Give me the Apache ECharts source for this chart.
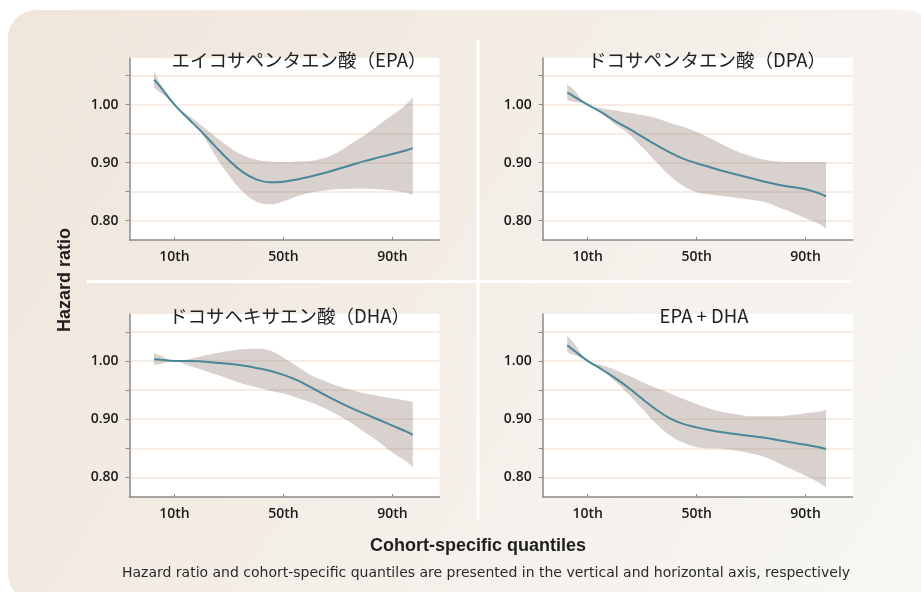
<!DOCTYPE html>
<html>
<head>
<meta charset="utf-8">
<script src="https://cdn.jsdelivr.net/npm/echarts@6/dist/echarts.min.js"></script>
<style>
  html, body { margin: 0; padding: 0; background: #ffffff; }
  #chart { width: 921px; height: 592px; }
</style>
</head>
<body>
<div id="chart"></div>
<script>
// Cohort-specific quantile positions (percentiles) at which the curves are sampled
const quantiles = [2.5, 5, 10, 15, 20, 25, 30, 35, 40, 45, 50, 55, 60, 65, 70, 75, 80, 85, 90, 95, 97.5];

// Panel titles
const panelTitles = ['エイコサペンタエン酸（EPA）', 'ドコサペンタエン酸（DPA）', 'ドコサヘキサエン酸（DHA）', 'EPA + DHA'];

// Hazard ratio estimates and 95% confidence bounds
const epaHR    = [1.043, 1.030, 1.000, 0.976, 0.953, 0.928, 0.904, 0.884, 0.871, 0.866, 0.867, 0.871, 0.876, 0.882, 0.889, 0.896, 0.903, 0.909, 0.915, 0.921, 0.925];
const epaUpper = [1.057, 1.035, 1.000, 0.982, 0.964, 0.945, 0.927, 0.913, 0.905, 0.902, 0.901, 0.902, 0.903, 0.908, 0.918, 0.933, 0.948, 0.965, 0.982, 1.000, 1.013];
const epaLower = [1.029, 1.020, 1.000, 0.978, 0.950, 0.912, 0.878, 0.850, 0.833, 0.828, 0.833, 0.842, 0.848, 0.852, 0.854, 0.855, 0.855, 0.854, 0.852, 0.848, 0.844];

const dpaHR    = [1.021, 1.014, 1.000, 0.987, 0.972, 0.959, 0.945, 0.931, 0.918, 0.907, 0.899, 0.892, 0.885, 0.879, 0.873, 0.867, 0.862, 0.858, 0.854, 0.847, 0.842];
const dpaUpper = [1.035, 1.025, 1.000, 0.994, 0.990, 0.986, 0.982, 0.977, 0.969, 0.962, 0.953, 0.942, 0.930, 0.919, 0.911, 0.905, 0.902, 0.901, 0.901, 0.901, 0.901];
const dpaLower = [1.007, 1.005, 1.000, 0.985, 0.966, 0.950, 0.927, 0.902, 0.878, 0.860, 0.849, 0.845, 0.842, 0.839, 0.836, 0.832, 0.823, 0.814, 0.804, 0.794, 0.786];

const dhaHR    = [1.003, 1.002, 1.000, 1.000, 0.999, 0.997, 0.995, 0.992, 0.988, 0.983, 0.976, 0.967, 0.955, 0.942, 0.930, 0.919, 0.909, 0.899, 0.889, 0.879, 0.873];
const dhaUpper = [1.013, 1.009, 1.000, 1.003, 1.008, 1.013, 1.017, 1.020, 1.021, 1.018, 1.006, 0.991, 0.976, 0.966, 0.957, 0.950, 0.944, 0.940, 0.936, 0.932, 0.929];
const dhaLower = [0.993, 0.995, 1.000, 0.992, 0.985, 0.977, 0.969, 0.961, 0.955, 0.949, 0.944, 0.937, 0.929, 0.919, 0.907, 0.893, 0.877, 0.861, 0.843, 0.828, 0.818];

const comboHR    = [1.027, 1.018, 1.000, 0.986, 0.971, 0.954, 0.935, 0.917, 0.902, 0.892, 0.886, 0.881, 0.877, 0.874, 0.871, 0.868, 0.864, 0.860, 0.856, 0.852, 0.849];
const comboUpper = [1.043, 1.030, 1.000, 0.993, 0.985, 0.975, 0.964, 0.954, 0.945, 0.935, 0.926, 0.918, 0.912, 0.908, 0.905, 0.905, 0.905, 0.907, 0.910, 0.913, 0.916];
const comboLower = [1.015, 1.010, 1.000, 0.985, 0.965, 0.943, 0.918, 0.893, 0.873, 0.860, 0.852, 0.850, 0.849, 0.846, 0.841, 0.835, 0.825, 0.814, 0.803, 0.791, 0.783];

// Axis ticks
const xTickValues = [10, 50, 90];
const yTickValues = [0.80, 0.85, 0.90, 0.95, 1.00, 1.05];
const yLabelValues = [0.80, 0.90, 1.00];

const panels = [
  { hr: epaHR, upper: epaUpper, lower: epaLower },
  { hr: dpaHR, upper: dpaUpper, lower: dpaLower },
  { hr: dhaHR, upper: dhaUpper, lower: dhaLower },
  { hr: comboHR, upper: comboUpper, lower: comboLower }
];

const gridBoxes = [
  { left: 129.5, top: 58, width: 310, height: 182 },
  { left: 542.7, top: 58, width: 310, height: 182 },
  { left: 129.5, top: 314, width: 310, height: 183 },
  { left: 542.7, top: 314, width: 310, height: 183 }
];
// horizontal centre of each panel heading
const titleCentres = [294, 702, 284.5, 699];

const latin = "'Liberation Sans', Arial, sans-serif";
const tickFont = "'Open Sans', 'DejaVu Sans', sans-serif";
const captionFont = "'DejaVu Sans', sans-serif";
const cjk = "'Noto Sans CJK JP', 'Noto Sans', sans-serif";
const axisColor = '#8a8a8a';
const lineColor = '#4a8799';
const bandColor = 'rgba(160,140,130,0.4)';

const grids = [], xAxes = [], yAxes = [], series = [], titles = [];

gridBoxes.forEach((g, i) => {
  grids.push({ left: g.left, top: g.top, width: g.width, height: g.height,
               show: true, backgroundColor: '#ffffff', borderWidth: 0, containLabel: false });

  xAxes.push({
    type: 'value', gridIndex: i, min: -6.5, max: 107.3,
    axisLine: { show: true, onZero: false, lineStyle: { color: axisColor, width: 1.5 } },
    axisTick: { show: true, inside: true, length: 3, customValues: xTickValues,
                lineStyle: { color: axisColor, width: 1 } },
    axisLabel: { show: true, customValues: xTickValues, margin: 10,
                 formatter: v => v + 'th',
                 color: '#1a1a1a', fontSize: 14, fontWeight: 600, fontFamily: tickFont },
    splitLine: { show: false }
  });

  yAxes.push({
    type: 'value', gridIndex: i, min: 0.7665, max: 1.0805,
    axisLine: { show: true, onZero: false, lineStyle: { color: axisColor, width: 1.5 } },
    axisTick: { show: true, inside: false, length: 4, customValues: yTickValues,
                lineStyle: { color: axisColor, width: 1 } },
    axisLabel: { show: true, customValues: yLabelValues, margin: 11,
                 formatter: v => v.toFixed(2),
                 color: '#1a1a1a', fontSize: 14, fontWeight: 600, fontFamily: tickFont },
    splitLine: { show: true, lineStyle: { color: '#f0e6dc', width: 1.5 } }
  });

  titles.push({
    text: panelTitles[i],
    left: titleCentres[i], top: g.top - 12, textAlign: 'center',
    textStyle: { fontFamily: cjk, fontWeight: 'normal', fontSize: 18.5, color: '#222222' }
  });

  const p = panels[i];
  const stackId = 'ci' + i;
  // Band series keep the hazard value in the first dimension so the stack
  // accumulates along the vertical axis.
  const bandEncode = { x: 1, y: 0 };
  // lower confidence bound (base of the band)
  series.push({
    type: 'line', xAxisIndex: i, yAxisIndex: i, stack: stackId, smooth: 0.4,
    symbol: 'none', silent: true, encode: bandEncode,
    lineStyle: { opacity: 0 },
    data: quantiles.map((q, k) => [p.lower[k], q])
  });
  // band thickness between lower and upper bounds
  series.push({
    type: 'line', xAxisIndex: i, yAxisIndex: i, stack: stackId, smooth: 0.4,
    symbol: 'none', silent: true, encode: bandEncode,
    lineStyle: { opacity: 0 },
    areaStyle: { color: bandColor, opacity: 1 },
    data: quantiles.map((q, k) => [+(p.upper[k] - p.lower[k]).toFixed(4), q])
  });
  // hazard ratio curve
  series.push({
    type: 'line', xAxisIndex: i, yAxisIndex: i, smooth: 0.4,
    symbol: 'none', silent: true,
    lineStyle: { color: lineColor, width: 2 },
    data: quantiles.map((q, k) => [q, p.hr[k]])
  });
});

const chart = echarts.init(document.getElementById('chart'), null, { renderer: 'canvas' });
chart.setOption({
  animation: false,
  backgroundColor: '#ffffff',
  title: titles,
  grid: grids,
  xAxis: xAxes,
  yAxis: yAxes,
  series: series,
  graphic: [
    {
      type: 'rect', z: -10, silent: true,
      shape: { x: 8, y: 10, width: 925, height: 592, r: 28 },
      style: {
        fill: new echarts.graphic.LinearGradient(0, 0, 1, 1, [
          { offset: 0, color: '#efe5db' },
          { offset: 1, color: '#f8f7f4' }
        ])
      }
    },
    { type: 'rect', z: -9, silent: true, shape: { x: 476.5, y: 40, width: 3, height: 480 }, style: { fill: '#ffffff' } },
    { type: 'rect', z: -9, silent: true, shape: { x: 87, y: 280, width: 765, height: 3 }, style: { fill: '#ffffff' } },
    {
      type: 'text', z: 5, x: 65, y: 280, rotation: Math.PI / 2,
      style: { text: 'Hazard ratio', font: 'bold 18px ' + latin, fill: '#1e1e1e',
               textAlign: 'center', textVerticalAlign: 'middle' }
    },
    {
      type: 'text', z: 5, x: 478, y: 546,
      style: { text: 'Cohort-specific quantiles', font: 'bold 18px ' + latin, fill: '#1e1e1e',
               textAlign: 'center', textVerticalAlign: 'middle' }
    },
    {
      type: 'text', z: 5, x: 486, y: 573,
      style: { text: 'Hazard ratio and cohort-specific quantiles are presented in the vertical and horizontal axis, respectively',
               font: '14px ' + captionFont, fill: '#2a2a2a',
               textAlign: 'center', textVerticalAlign: 'middle' }
    }
  ]
});
</script>
</body>
</html>
